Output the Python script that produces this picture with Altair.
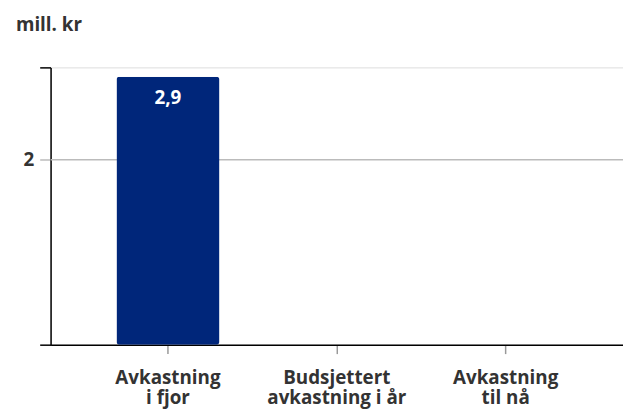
import altair as alt
import pandas as pd

categories = ["Avkastning\ni fjor", "Budsjettert\navkastning i år", "Avkastning\ntil nå"]
values = [2.9, None, None]
y_ticks = [0, 2, 3]
grid_values = [2]
y_title = "mill. kr"

FONT = "Open Sans"
TEXT = "#333333"
BAR = "#00267a"
GRID = "#bbbbbb"

df = pd.DataFrame({"cat": categories, "value": values})
grid_df = pd.DataFrame({"value": grid_values})

x_axis = alt.Axis(
    title=None,
    labelAngle=0,
    labelExpr="split(datum.label, '\\n')",
    labelFont=FONT,
    labelFontSize=19,
    labelFontWeight="bold",
    labelColor=TEXT,
    labelLineHeight=20,
    labelPadding=15,
    tickColor="#999999",
    tickSize=9,
    tickWidth=1.5,
    domainColor="#000000",
    domainWidth=1.5,
    grid=False,
    gridOpacity=0,
)
x_scale = alt.Scale(domain=categories, paddingInner=0.39, paddingOuter=0.39)

y_axis = alt.Axis(
    title=None,
    values=y_ticks,
    labelExpr="datum.value == 2 ? '2' : ''",
    labelFont=FONT,
    labelFontSize=19,
    labelFontWeight="bold",
    labelColor=TEXT,
    labelPadding=6,
    tickSize=11,
    tickWidth=1.5,
    tickColor={"condition": {"test": "datum.value == 2", "value": GRID}, "value": "#000000"},
    domainColor="#000000",
    domainWidth=1.5,
    grid=False,
    gridOpacity=0,
)
y_scale = alt.Scale(domain=[0, 3], nice=False, zero=True)

x = alt.X("cat:N", sort=categories, scale=x_scale, axis=x_axis)
y = alt.Y("value:Q", scale=y_scale, axis=y_axis)

grid = alt.Chart(grid_df).mark_rule(color=GRID, strokeWidth=1.5).encode(y=y)

bars = (
    alt.Chart(df)
    .transform_filter("isValid(datum.value)")
    .mark_bar(color=BAR, cornerRadius=3)
    .encode(x=x, y=y)
)

labels = (
    alt.Chart(df)
    .transform_filter("isValid(datum.value)")
    .transform_calculate(lbl="replace(format(datum.value, '.1f'), '.', ',')")
    .mark_text(font=FONT, fontSize=19, fontWeight="bold", color="white", baseline="middle", dy=22)
    .encode(x=x, y=y, text="lbl:N")
)

chart = (
    alt.layer(grid, bars, labels)
    .properties(
        width=578,
        height=280,
        autosize=alt.AutoSizeParams(type="none"),
        padding={"left": 43, "top": 58, "right": 0, "bottom": 66},
        title=alt.TitleParams(
            y_title,
            anchor="start",
            frame="group",
            dx=-35,
            offset=32,
            font=FONT,
            fontSize=19,
            fontWeight="bold",
            color=TEXT,
        ),
    )
    .configure_axis(grid=False, gridOpacity=0)
    .configure_view(stroke="transparent", strokeWidth=0, strokeOpacity=0)
    .configure(background="white")
)

chart.save("out.html", embed_options={"renderer": "svg", "actions": False})
